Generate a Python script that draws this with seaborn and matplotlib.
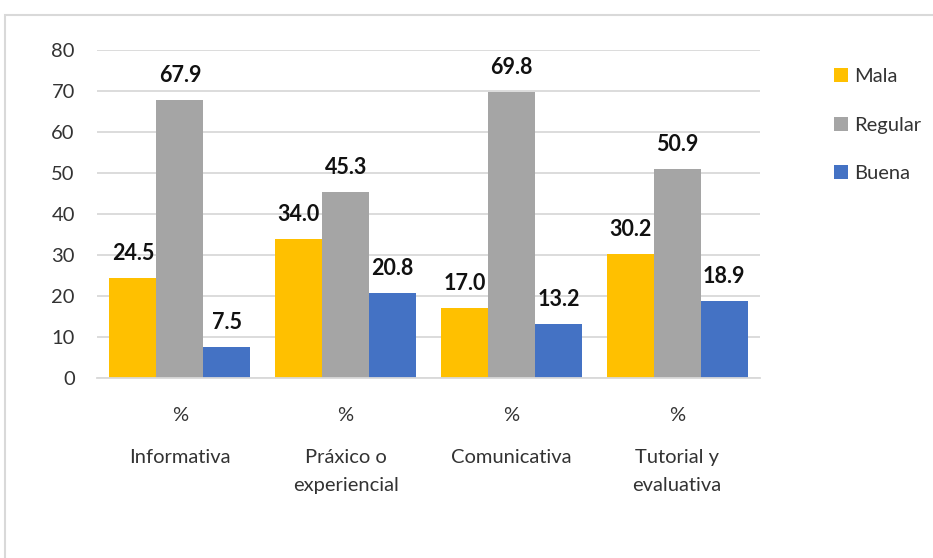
import matplotlib
matplotlib.use("Agg")
import matplotlib.pyplot as plt
import matplotlib.transforms as mtransforms
from matplotlib.patches import Rectangle
import seaborn as sns
import pandas as pd

categories = ["Informativa", "Práxico o\nexperiencial", "Comunicativa", "Tutorial y\nevaluativa"]
tick_labels = ["%", "%", "%", "%"]
series = ["Mala", "Regular", "Buena"]
mala = [24.5, 34.0, 17.0, 30.2]
regular = [67.9, 45.3, 69.8, 50.9]
buena = [7.5, 20.8, 13.2, 18.9]
colors = ["#FFC000", "#A5A5A5", "#4472C4"]

rows = []
for s, vals in zip(series, [mala, regular, buena]):
    for c, v in zip(categories, vals):
        rows.append({"cat": c, "serie": s, "val": v})
df = pd.DataFrame(rows)

sns.set_theme(style="white")
plt.rcParams["font.family"] = ["Lato", "DejaVu Sans"]

fig = plt.figure(figsize=(9.33, 5.58), dpi=100)
ax = fig.add_axes([0.104, 0.3226, 0.7106, 0.5878])

sns.barplot(data=df, x="cat", y="val", hue="serie", hue_order=series,
            palette=colors, width=0.85, saturation=1, ax=ax, legend=True,
            linewidth=0, edgecolor="none")

ax.set_ylim(0, 80)
ax.set_yticks(range(0, 81, 10))
ax.yaxis.grid(True, color="#D9D9D9", linewidth=1.3)
ax.set_axisbelow(True)
for sp in ["top", "right", "left"]:
    ax.spines[sp].set_visible(False)
ax.spines["bottom"].set_color("#D9D9D9")
ax.spines["bottom"].set_linewidth(1.3)
ax.tick_params(axis="y", length=0, labelsize=14.5, colors="#333333", pad=16)
ax.tick_params(axis="x", length=0, labelsize=14.5, colors="#333333", pad=21)
ax.set_xticks(range(len(categories)))
ax.set_xticklabels(tick_labels)
ax.set_xlabel("")
ax.set_ylabel("")
ax.set_xlim(-0.5, len(categories) - 0.5)

trans = mtransforms.blended_transform_factory(ax.transData, ax.transAxes)
for i, c in enumerate(categories):
    ax.text(i, -0.215, c, transform=trans, ha="center", va="top",
            fontsize=14.5, color="#333333", linespacing=1.8)

for cont in ax.containers:
    ax.bar_label(cont, fmt="%.1f", padding=10, fontsize=15.5,
                 fontweight="bold", color="#111111")

handles, labels = ax.get_legend_handles_labels()
ax.legend(handles, labels, loc="upper left", bbox_to_anchor=(0.874, 0.91),
          bbox_transform=fig.transFigure, frameon=False, fontsize=14.5,
          handlelength=0.7, handleheight=0.7, handletextpad=0.3,
          labelspacing=1.55, labelcolor="#333333")

fig.add_artist(Rectangle((0.0054, -0.1), 1.2, 1.073, transform=fig.transFigure,
                         fill=False, edgecolor="#D9D9D9", linewidth=1.5,
                         clip_on=False))

fig.savefig("out.png", dpi=100, facecolor="white")
